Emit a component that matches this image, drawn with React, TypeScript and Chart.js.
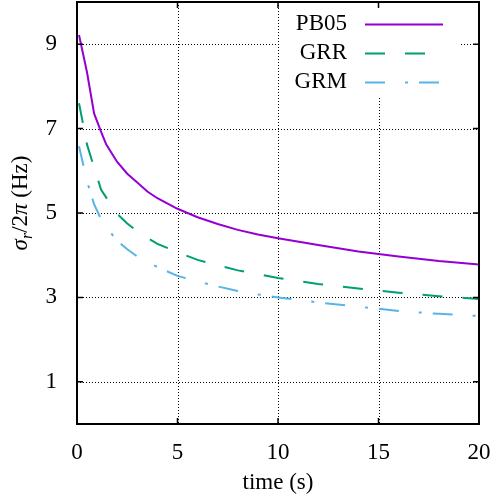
import { useEffect, useRef } from "react";
import { Chart, registerables } from "chart.js";

Chart.register(...registerables);

// ---- data ----
const timeS = [0.1, 0.5, 0.85, 1.2, 1.45, 2, 2.5, 3, 3.5, 4, 5, 6, 7, 8, 9, 10, 12, 14, 16, 18, 20];
const pb05 = [9.22, 8.33, 7.36, 6.92, 6.63, 6.21, 5.93, 5.72, 5.51, 5.35, 5.1, 4.9, 4.74, 4.6, 4.49, 4.4, 4.24, 4.09, 3.97, 3.86, 3.78];
const grr = [7.6, 6.62, 6.08, 5.55, 5.37, 4.98, 4.75, 4.57, 4.41, 4.27, 4.07, 3.89, 3.76, 3.64, 3.55, 3.46, 3.32, 3.21, 3.11, 3.03, 2.96];
const grm = [6.58, 5.75, 5.21, 4.85, 4.67, 4.34, 4.14, 3.97, 3.84, 3.72, 3.51, 3.38, 3.26, 3.15, 3.07, 3.0, 2.88, 2.78, 2.68, 2.61, 2.56];
const seriesLabels = ["PB05", "GRR", "GRM"];
const seriesColors = ["#9400d3", "#009e73", "#56b4e9"];
const seriesDashes: number[][] = [[], [20, 20], [20, 20, 3, 11]];
const xTicks = [0, 5, 10, 15, 20];
const yTicks = [1, 3, 5, 7, 9];
const xTitle = "time (s)";

const FONT = '"Liberation Serif", "Times New Roman", serif';
const FS = 23;

const zeroPad = (s: any) => {
  s.paddingTop = 0;
  s.paddingBottom = 0;
  s.paddingLeft = 0;
  s.paddingRight = 0;
};

const decor = {
  id: "decor",
  beforeDatasetsDraw(chart: any) {
    const { ctx, chartArea: a, scales } = chart;
    const x = scales.x;
    const y = scales.y;
    ctx.save();
    ctx.strokeStyle = "#000";
    ctx.lineWidth = 1;
    ctx.setLineDash([1, 2]);
    x.ticks.forEach((t: any) => {
      if (t.value <= x.min || t.value >= x.max) return;
      const px = Math.round(x.getPixelForValue(t.value)) + 0.5;
      ctx.beginPath();
      ctx.moveTo(px, a.top);
      ctx.lineTo(px, a.bottom);
      ctx.stroke();
    });
    y.ticks.forEach((t: any) => {
      if (t.value <= y.min || t.value >= y.max) return;
      const py = Math.round(y.getPixelForValue(t.value)) + 0.5;
      ctx.beginPath();
      ctx.moveTo(a.left, py);
      ctx.lineTo(a.right, py);
      ctx.stroke();
    });
    ctx.restore();
  },
  afterDatasetsDraw(chart: any) {
    const { ctx, chartArea: a, scales } = chart;
    const x = scales.x;
    const y = scales.y;
    ctx.save();
    // opaque key box
    ctx.fillStyle = "#fff";
    ctx.fillRect(a.right - 200, a.top, 182, 95);
    // key entries
    chart.data.datasets.forEach((ds: any, i: number) => {
      const ry = a.top + 22 + i * 29;
      ctx.fillStyle = "#000";
      ctx.font = `${FS}px ${FONT}`;
      ctx.textAlign = "right";
      ctx.textBaseline = "middle";
      ctx.fillText(ds.label, a.right - 132, ry);
      ctx.strokeStyle = ds.borderColor;
      ctx.lineWidth = ds.borderWidth;
      ctx.setLineDash(ds.borderDash || []);
      ctx.beginPath();
      ctx.moveTo(a.right - 114, ry + 0.5);
      ctx.lineTo(a.right - 36, ry + 0.5);
      ctx.stroke();
    });
    ctx.setLineDash([]);
    // frame
    ctx.strokeStyle = "#000";
    ctx.lineWidth = 2;
    ctx.strokeRect(a.left, a.top, a.right - a.left, a.bottom - a.top);
    // inward ticks on all sides
    ctx.lineWidth = 1.5;
    const tl = 6;
    x.ticks.forEach((t: any) => {
      const px = x.getPixelForValue(t.value);
      ctx.beginPath();
      ctx.moveTo(px, a.bottom);
      ctx.lineTo(px, a.bottom - tl);
      ctx.moveTo(px, a.top);
      ctx.lineTo(px, a.top + tl);
      ctx.stroke();
    });
    y.ticks.forEach((t: any) => {
      const py = y.getPixelForValue(t.value);
      ctx.beginPath();
      ctx.moveTo(a.left, py);
      ctx.lineTo(a.left + tl, py);
      ctx.moveTo(a.right, py);
      ctx.lineTo(a.right - tl, py);
      ctx.stroke();
    });
    // x title
    ctx.fillStyle = "#000";
    ctx.font = `${FS}px ${FONT}`;
    ctx.textAlign = "center";
    ctx.textBaseline = "middle";
    ctx.fillText(xTitle, (a.left + a.right) / 2, a.bottom + 59);
    // y title: sigma_r / 2 pi (Hz)
    const pieces = [
      { t: "σ", f: `italic ${FS}px ${FONT}`, dy: 0 },
      { t: "r", f: `italic 16px ${FONT}`, dy: 5 },
      { t: "/2", f: `${FS}px ${FONT}`, dy: 0 },
      { t: "π", f: `italic ${FS}px ${FONT}`, dy: 0 },
      { t: " (Hz)", f: `${FS}px ${FONT}`, dy: 0 },
    ];
    let total = 0;
    const widths = pieces.map((p) => {
      ctx.font = p.f;
      const w = ctx.measureText(p.t).width;
      total += w;
      return w;
    });
    ctx.translate(a.left - 57, (a.top + a.bottom) / 2 - 10);
    ctx.rotate(-Math.PI / 2);
    ctx.textAlign = "left";
    ctx.textBaseline = "alphabetic";
    let cx = -total / 2;
    pieces.forEach((p, i) => {
      ctx.font = p.f;
      ctx.fillText(p.t, cx, 7 + p.dy);
      cx += widths[i];
    });
    ctx.restore();
  },
};

export default function App() {
  const ref = useRef<HTMLCanvasElement>(null);
  useEffect(() => {
    const canvas = ref.current;
    if (!canvas) return;
    Chart.defaults.font.family = FONT;
    const series = [pb05, grr, grm];
    const chart = new Chart(canvas, {
      type: "line",
      data: {
        datasets: series.map((vals, i) => ({
          label: seriesLabels[i],
          data: timeS.map((t, j) => ({ x: t, y: vals[j] })),
          borderColor: seriesColors[i],
          backgroundColor: seriesColors[i],
          borderWidth: 2,
          borderDash: seriesDashes[i],
          pointRadius: 0,
          tension: 0,
          fill: false,
        })),
      },
      options: {
        responsive: false,
        animation: false,
        layout: { padding: { left: 0, right: 12, top: 2, bottom: 0 } },
        plugins: {
          legend: { display: false },
          tooltip: { enabled: false },
          title: { display: false },
        },
        scales: {
          x: {
            type: "linear",
            min: 0,
            max: 20,
            afterBuildTicks: (s: any) => {
              s.ticks = xTicks.map((v) => ({ value: v }));
            },
            afterFit: (s: any) => {
              s.height = 73;
              zeroPad(s);
            },
            grid: { display: false, drawTicks: false },
            border: { display: false },
            ticks: {
              font: { family: FONT, size: FS },
              color: "#000",
              padding: 15,
              maxRotation: 0,
              autoSkip: false,
            },
          },
          y: {
            type: "linear",
            min: 0,
            max: 10,
            afterBuildTicks: (s: any) => {
              s.ticks = yTicks.map((v) => ({ value: v }));
            },
            afterFit: (s: any) => {
              s.width = 77;
              zeroPad(s);
            },
            grid: { display: false, drawTicks: false },
            border: { display: false },
            ticks: {
              font: { family: FONT, size: FS },
              color: "#000",
              padding: 20,
              autoSkip: false,
            },
          },
        },
      } as any,
      plugins: [decor],
    });
    return () => chart.destroy();
  }, []);
  return (
    <div style={{ position: "fixed", left: 0, top: 0, width: 491, height: 497, background: "#fff" }}>
      <canvas ref={ref} width={491} height={497} style={{ display: "block", width: 491, height: 497 }} />
    </div>
  );
}
